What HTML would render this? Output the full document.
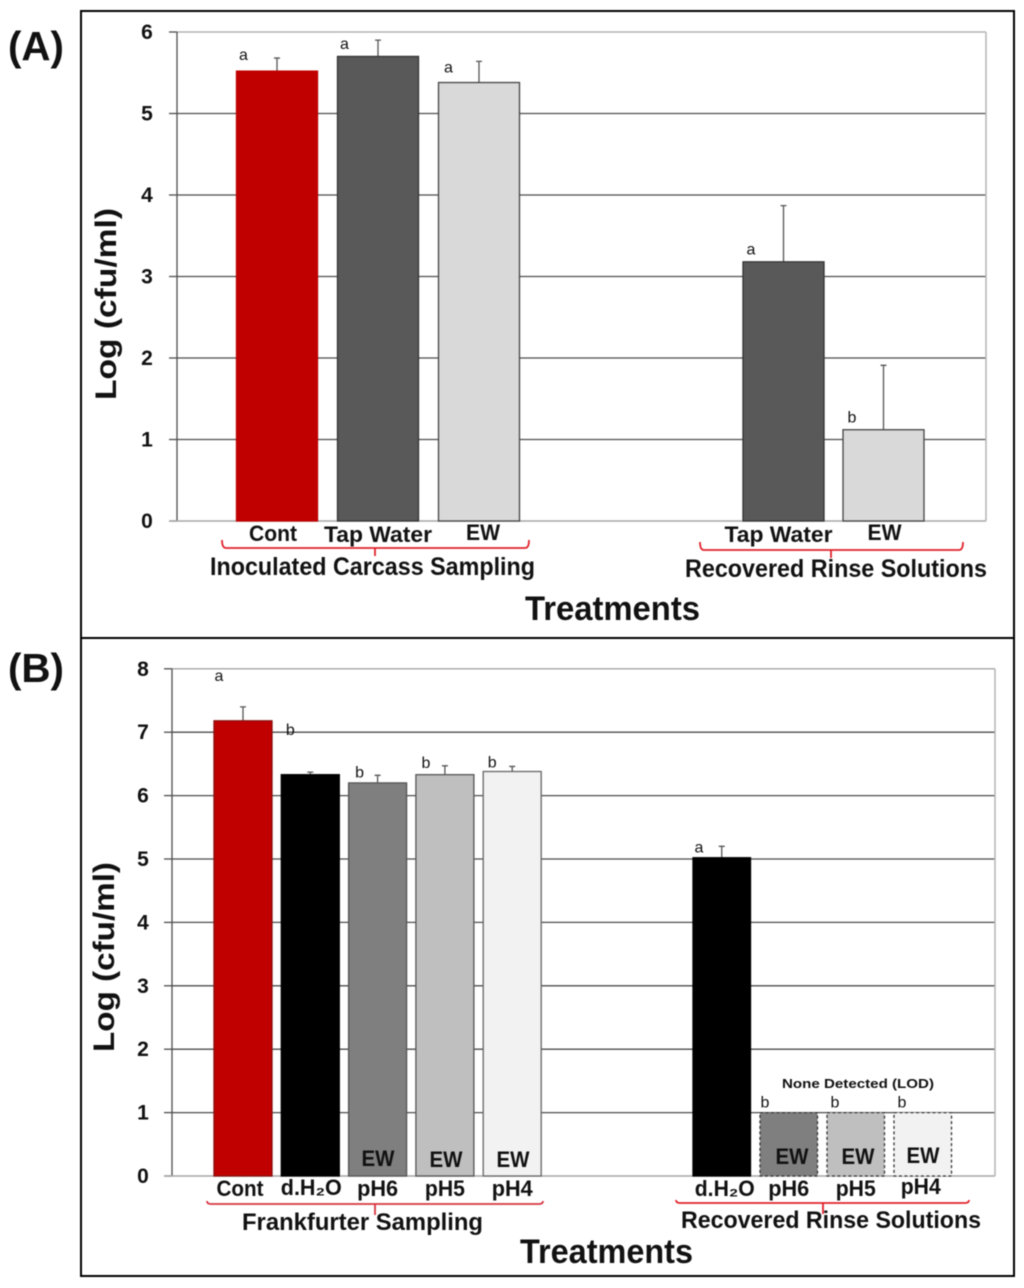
<!DOCTYPE html>
<html lang="en">
<head>
<meta charset="utf-8">
<title>Log (cfu/ml) by treatment</title>
<style>
html,body{margin:0;padding:0;background:#fff;width:1024px;height:1288px;overflow:hidden}
svg{display:block;filter:blur(0.45px)}
text{font-family:"Liberation Sans",Arial,sans-serif;fill:#111}
</style>
</head>
<body>
<svg id="figure" xmlns="http://www.w3.org/2000/svg" width="1024" height="1288" viewBox="0 0 1024 1288">
  <rect x="81" y="11" width="933" height="627" fill="#fff" stroke="#000" stroke-width="2"/>
  <rect x="81" y="638" width="933" height="638" fill="#fff" stroke="#000" stroke-width="2"/>
  <text x="8" y="60" font-size="41" font-weight="700" textLength="56" lengthAdjust="spacingAndGlyphs">(A)</text>
  <text x="8" y="682" font-size="41" font-weight="700" textLength="56" lengthAdjust="spacingAndGlyphs">(B)</text>
  <g id="chartA"></g>
  <g id="chartB"></g>
  <path d="M222 540 Q222 548 226 548 H525 Q529 548 529 540 M375 548 V556" fill="none" stroke="#e0232b" stroke-width="1.8"/>
  <path d="M700 542 Q700 550 704 550 H959 Q963 550 963 542 M831 550 V558" fill="none" stroke="#e0232b" stroke-width="1.8"/>
  <path d="M207 1201 Q207 1204 211 1204 H539 Q543 1204 543 1201 M375 1204 V1215" fill="none" stroke="#d8343f" stroke-width="1.8"/>
  <path d="M676 1200 Q676 1203 680 1203 H965 Q969 1203 969 1200 M823 1203 V1214" fill="none" stroke="#e0232b" stroke-width="1.8"/>
  <text x="210" y="575" font-size="25" font-weight="700" textLength="325" lengthAdjust="spacingAndGlyphs">Inoculated Carcass Sampling</text>
  <text x="685" y="577" font-size="25" font-weight="700" textLength="302" lengthAdjust="spacingAndGlyphs">Recovered Rinse Solutions</text>
  <text x="242" y="1230" font-size="24" font-weight="700" textLength="241" lengthAdjust="spacingAndGlyphs">Frankfurter Sampling</text>
  <text x="681" y="1228" font-size="24" font-weight="700" textLength="300" lengthAdjust="spacingAndGlyphs">Recovered Rinse Solutions</text>
  <text x="525" y="620" font-size="34" font-weight="700" textLength="175" lengthAdjust="spacingAndGlyphs">Treatments</text>
  <text x="520" y="1263" font-size="34" font-weight="700" textLength="173" lengthAdjust="spacingAndGlyphs">Treatments</text>
  <text transform="translate(116 400) rotate(-90)" font-size="30" font-weight="700" textLength="192" lengthAdjust="spacingAndGlyphs">Log (cfu/ml)</text>
  <text transform="translate(114 1052) rotate(-90)" font-size="30" font-weight="700" textLength="190" lengthAdjust="spacingAndGlyphs">Log (cfu/ml)</text>
  <text x="782" y="1088" font-size="13" font-weight="700" textLength="152" lengthAdjust="spacingAndGlyphs">None Detected (LOD)</text>
  <text x="378" y="1166" font-size="22" text-anchor="middle" font-weight="700" textLength="33" lengthAdjust="spacingAndGlyphs">EW</text>
  <text x="446" y="1167" font-size="22" text-anchor="middle" font-weight="700" textLength="33" lengthAdjust="spacingAndGlyphs">EW</text>
  <text x="513" y="1167" font-size="22" text-anchor="middle" font-weight="700" textLength="33" lengthAdjust="spacingAndGlyphs">EW</text>
  <text x="792" y="1164" font-size="22" text-anchor="middle" font-weight="700" textLength="33" lengthAdjust="spacingAndGlyphs">EW</text>
  <text x="858" y="1164" font-size="22" text-anchor="middle" font-weight="700" textLength="33" lengthAdjust="spacingAndGlyphs">EW</text>
  <text x="923" y="1163" font-size="22" text-anchor="middle" font-weight="700" textLength="33" lengthAdjust="spacingAndGlyphs">EW</text>
</svg>
<script>
// Panel A data
const aTicks = [0, 1, 2, 3, 4, 5, 6];
const aCarcassCategories = ['Cont', 'Tap Water', 'EW'];
const aCarcassMeans = [5.52, 5.70, 5.38];
const aCarcassErrorTops = [5.68, 5.90, 5.64];
const aCarcassLetters = ['a', 'a', 'a'];
const aRinseCategories = ['Tap Water', 'EW'];
const aRinseMeans = [3.18, 1.12];
const aRinseErrorTops = [3.87, 1.91];
const aRinseLetters = ['a', 'b'];
// Panel B data
const bTicks = [0, 1, 2, 3, 4, 5, 6, 7, 8];
const bFrankCategories = ['Cont', 'd.H₂O', 'pH6', 'pH5', 'pH4'];
const bFrankMeans = [7.18, 6.33, 6.20, 6.33, 6.38];
const bFrankErrorTops = [7.40, 6.37, 6.32, 6.47, 6.46];
const bFrankLetters = ['a', 'b', 'b', 'b', 'b'];
const bRinseCategories = ['d.H₂O', 'pH6', 'pH5', 'pH4'];
const bRinseMeans = [5.02, 1, 1, 1];
const bRinseErrorTops = [5.20, null, null, null];
const bRinseLetters = ['a', 'b', 'b', 'b'];

const NS = 'http://www.w3.org/2000/svg';
function mk(parent, tag, attrs, txt) {
  const el = document.createElementNS(NS, tag);
  for (const k in attrs) el.setAttribute(k, attrs[k]);
  if (txt !== undefined) el.textContent = txt;
  parent.appendChild(el);
  return el;
}
function drawAxes(g, ticks, o, y) {
  ticks.forEach(function (t) {
    const isTop = t === ticks[ticks.length - 1];
    if (t !== ticks[0]) {
      const line = mk(g, 'line', {x1: o.axisX, x2: o.right, y1: y(t), y2: y(t), stroke: isTop ? '#a6a6a6' : '#4d4d4d', 'stroke-width': 1.3});
      
      
    }
    const tick = mk(g, 'line', {x1: o.axisX - 8, x2: o.axisX, y1: y(t), y2: y(t), stroke: '#4d4d4d', 'stroke-width': 1.3});
    
    
    const label = mk(g, 'text', {x: o.tickX, y: y(t) + 7, 'font-size': 21, 'font-weight': 700, 'text-anchor': 'middle'}, String(t));
    
    
  });
  const yAxis = mk(g, 'line', {x1: o.axisX, x2: o.axisX, y1: y(ticks[ticks.length - 1]), y2: y(0), stroke: '#4d4d4d', 'stroke-width': 1.3});
  
  
  const base = mk(g, 'line', {x1: o.axisX - 8, x2: o.right, y1: y(0), y2: y(0), stroke: '#a6a6a6', 'stroke-width': 1.5});
  
  
  const rightEdge = mk(g, 'line', {x1: o.right, x2: o.right, y1: y(ticks[ticks.length - 1]), y2: y(0), stroke: '#b5b5b5', 'stroke-width': 1.5});
  
  
}
function drawGroup(g, y, s) {
  s.means.forEach(function (v, i) {
    const x = s.start + i * s.step;
    const cx = x + s.width / 2;
    const top = s.tops[i];
    if (top !== null) {
      const err = mk(g, 'path', {d: 'M' + cx + ' ' + y(v) + ' V' + y(top) + ' M' + (cx - 3) + ' ' + y(top) + ' H' + (cx + 3), stroke: '#555', 'stroke-width': 1.3, fill: 'none'});
      
      
    }
    const bar = mk(g, 'rect', {x: x, y: y(v), width: s.width, height: y(0) - y(v), fill: s.fills[i], stroke: s.strokes[i], 'stroke-width': 1.3});
    if (s.dashed && s.dashed[i]) bar.setAttribute('stroke-dasharray', '3 2.5');
    
    
    const letterY = (top !== null ? y(top) : y(v)) + s.letterDy[i];
    const letter = mk(g, 'text', {x: x + s.letterDx[i], y: letterY, 'font-size': 16, 'text-anchor': 'middle', fill: '#222'}, s.letters[i]);
    
    
    const cat = mk(g, 'text', {x: cx + s.catDx[i], y: s.catY[i], 'font-size': 22, 'font-weight': s.catWeight, 'text-anchor': 'middle', textLength: s.catLen[i], lengthAdjust: 'spacingAndGlyphs'}, s.cats[i]);
    
    
  });
}
const ga = document.getElementById('chartA');
const gb = document.getElementById('chartB');
const yA = function (v) { return 521 - v * 81.5; };
const yB = function (v) { return 1176 - v * 63.4; };
drawAxes(ga, aTicks, {axisX: 177, right: 986, tickX: 147}, yA);
drawAxes(gb, bTicks, {axisX: 172, right: 995, tickX: 143}, yB);
drawGroup(ga, yA, {key: 'carcass', start: 236.5, step: 101, width: 81, means: aCarcassMeans, tops: aCarcassErrorTops, letters: aCarcassLetters, cats: aCarcassCategories,
  fills: ['#c00000', '#595959', '#d9d9d9'], strokes: ['#c00000', '#333', '#444'],
  letterDx: [7, 7, 10], letterDy: [2, 9, 11], catDx: [-4, 0, 4], catY: [541, 542, 540], catLen: [48, 108, 34], catWeight: 700});
drawGroup(ga, yA, {key: 'rinse-a', start: 743, step: 100, width: 81, means: aRinseMeans, tops: aRinseErrorTops, letters: aRinseLetters, cats: aRinseCategories,
  fills: ['#595959', '#d9d9d9'], strokes: ['#333', '#444'],
  letterDx: [8, 9], letterDy: [49, 57], catDx: [-5, 1], catY: [542, 540], catLen: [108, 34], catWeight: 700});
drawGroup(gb, yB, {key: 'frankfurter', start: 214, step: 67.3, width: 58, means: bFrankMeans, tops: bFrankErrorTops, letters: bFrankLetters, cats: bFrankCategories,
  fills: ['#c00000', '#000', '#7f7f7f', '#bfbfbf', '#f2f2f2'], strokes: ['#8a1010', '#000', '#555', '#555', '#666'],
  letterDx: [5, 9, 11, 10, 9], letterDy: [-26, -37, 2, 2, 1], catDx: [-3, 1, 0, 0, 0], catY: [1196, 1195, 1196, 1196, 1196], catLen: [47, 61, 41, 40, 41], catWeight: 700});
drawGroup(gb, yB, {key: 'rinse-b', start: 693, step: 67, width: 57.5, means: bRinseMeans, tops: bRinseErrorTops, letters: bRinseLetters, cats: bRinseCategories,
  fills: ['#000', '#7f7f7f', '#bfbfbf', '#f2f2f2'], strokes: ['#000', '#333', '#333', '#333'], dashed: [false, true, true, true],
  letterDx: [6, 5, 8, 8], letterDy: [6, -5, -5, -5], catDx: [3, 0, 0, -2], catY: [1196, 1196, 1196, 1194], catLen: [60, 41, 40, 40], catWeight: 700});
</script>
</body>
</html>
